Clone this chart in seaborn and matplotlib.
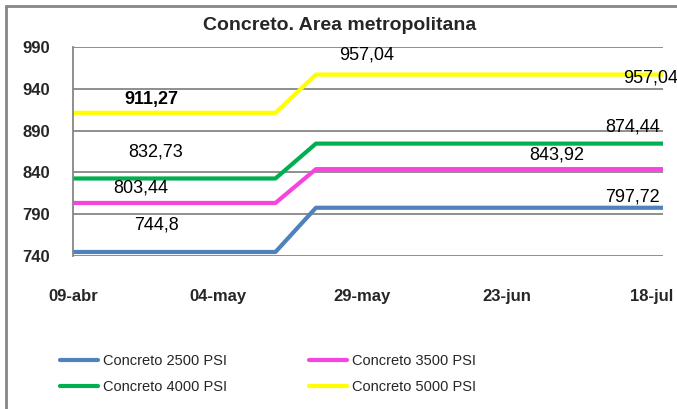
import pandas as pd
import matplotlib.pyplot as plt
import matplotlib.dates as mdates
from matplotlib.lines import Line2D
import seaborn as sns

# -----------------------------
# Data
# -----------------------------
dates = ["2010-04-09", "2010-05-14", "2010-05-21", "2010-07-20"]
psi_2500 = [744.8, 744.8, 797.72, 797.72]
psi_3500 = [803.44, 803.44, 843.92, 843.92]
psi_4000 = [832.73, 832.73, 874.44, 874.44]
psi_5000 = [911.27, 911.27, 957.04, 957.04]

series_names = ["Concreto 2500 PSI", "Concreto 3500 PSI", "Concreto 4000 PSI", "Concreto 5000 PSI"]
colors = ["#4F81BD", "#F545DE", "#00B050", "#FFFF00"]

tick_dates = ["2010-04-09", "2010-05-04", "2010-05-29", "2010-06-23", "2010-07-18"]
tick_labels = ["09-abr", "04-may", "29-may", "23-jun", "18-jul"]
y_ticks = [740, 790, 840, 890, 940, 990]

# value labels: (text, day offset from start, y, bold)
label_text = ["911,27", "957,04", "957,04", "874,44", "832,73", "843,92", "803,44", "744,8", "797,72"]
label_day = [13.5, 50.8, 99.8, 96.8, 14.3, 83.6, 11.7, 14.5, 96.8]
label_y = [927, 981, 953, 894, 864, 861, 821, 777, 811]
label_bold = [True, False, False, False, False, False, False, False, False]

# -----------------------------
# Build long table
# -----------------------------
rows = []
for name, vals in zip(series_names, [psi_2500, psi_3500, psi_4000, psi_5000]):
    for d, v in zip(dates, vals):
        rows.append({"fecha": pd.Timestamp(d), "valor": v, "serie": name})
df = pd.DataFrame(rows)

sns.set_style("white")
plt.rcParams["font.family"] = ["Liberation Sans", "DejaVu Sans"]

fig = plt.figure(figsize=(6.77, 4.09), dpi=100)
ax = fig.add_axes([73 / 677, 1 - 256 / 409, 590 / 677, 209 / 409])

sns.lineplot(data=df, x="fecha", y="valor", hue="serie",
             palette=dict(zip(series_names, colors)), linewidth=3,
             legend=False, ax=ax)

start = pd.Timestamp(dates[0])
ax.set_xlim(start, pd.Timestamp(dates[-1]))
ax.set_ylim(740, 990)
ax.set_yticks(y_ticks)
ax.set_yticklabels([str(v) for v in y_ticks], fontsize=12, fontweight="bold")
ax.set_xticks([pd.Timestamp(t) for t in tick_dates])
ax.set_xticklabels(tick_labels, fontsize=12, fontweight="bold")
ax.tick_params(axis="x", length=7, width=1.2, color="#868686", pad=16.5)
ax.tick_params(axis="y", length=4, width=1.2, color="#868686", pad=12.5)
ax.yaxis.grid(True, color="#868686", linewidth=1.3)
ax.set_axisbelow(True)
ax.set_xlabel("")
ax.set_ylabel("")
for side in ["top", "right", "bottom"]:
    ax.spines[side].set_visible(False)
ax.spines["left"].set_color("#868686")
ax.spines["left"].set_linewidth(1.3)

# value labels
for t, dd, yy, b in zip(label_text, label_day, label_y, label_bold):
    x = mdates.date2num(start + pd.Timedelta(days=dd))
    ax.text(x, yy, t, ha="center", va="center", fontsize=13,
            fontweight="bold" if b else "normal", color="black", clip_on=False)

fig.text(340 / 677, 1 - 25 / 409, "Concreto. Area metropolitana",
         ha="center", va="center", fontsize=14, fontweight="bold")

# legend (column order like the reference)
order = [0, 2, 1, 3]
handles = [Line2D([0], [0], color=colors[i], linewidth=3) for i in order]
labels = [series_names[i] for i in order]
leg = fig.legend(handles, labels, loc="upper left", bbox_to_anchor=(60 / 677, 1 - 354 / 409),
                 ncol=2, frameon=False, fontsize=10.5, handlelength=2.6, handletextpad=0.35,
                 columnspacing=5.6, labelspacing=0.85, borderpad=0, borderaxespad=0)

# outer chart border
fig.add_artist(Line2D([6 / 677, 6 / 677], [0, 1 - 6 / 409], color="#868686", linewidth=2,
                      transform=fig.transFigure))
fig.add_artist(Line2D([6 / 677, 1], [1 - 6 / 409, 1 - 6 / 409], color="#868686", linewidth=2,
                      transform=fig.transFigure))

plt.savefig("out.png", dpi=100)
plt.close()
